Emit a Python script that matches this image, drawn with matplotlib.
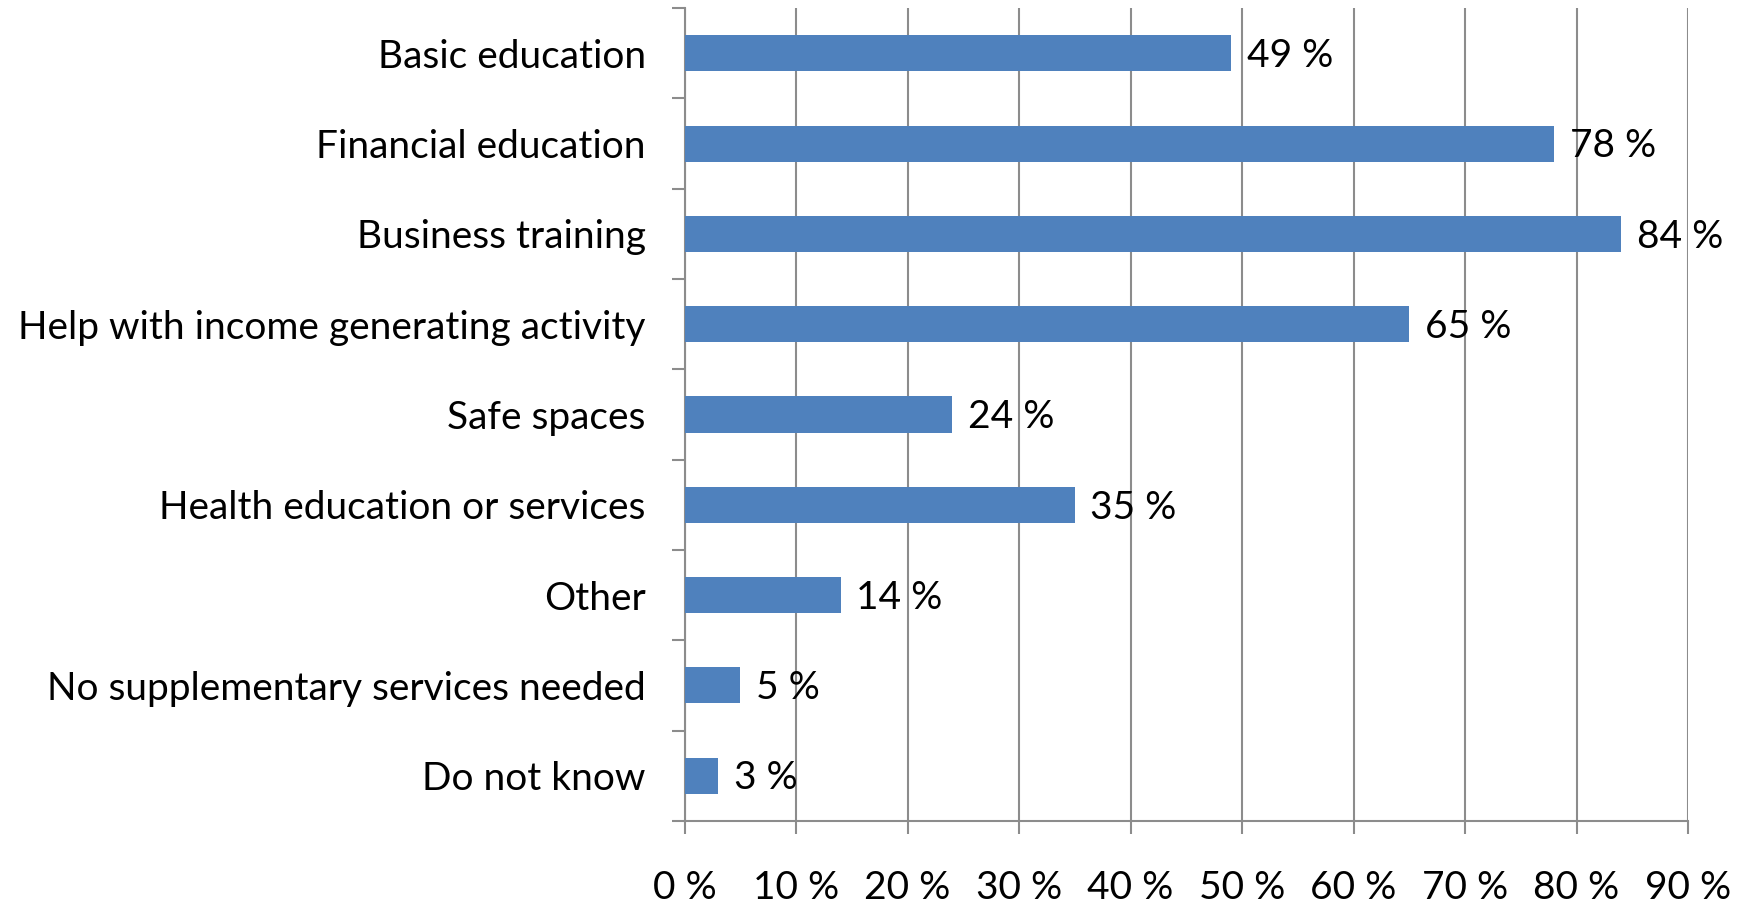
import matplotlib.pyplot as plt
import numpy as np

plt.rcParams['font.family'] = ['Lato', 'DejaVu Sans']

categories = [
    "Basic education",
    "Financial education",
    "Business training",
    "Help with income generating activity",
    "Safe spaces",
    "Health education or services",
    "Other",
    "No supplementary services needed",
    "Do not know",
]
shares = [49, 78, 84, 65, 24, 35, 14, 5, 3]
x_ticks = [0, 10, 20, 30, 40, 50, 60, 70, 80, 90]

BAR_COLOR = "#4F81BD"
GRID_COLOR = "#8C8C8C"
FS = 28

fig = plt.figure(figsize=(17.42, 9.07), dpi=100)
ax = fig.add_axes([0.393, 0.095, 0.576, 0.896])

y = np.arange(len(categories))
ax.barh(y, shares, height=0.4, color=BAR_COLOR, zorder=3)

for yi, v in zip(y, shares):
    ax.text(v + 1.4, yi + 0.03, f"{v} %", va="center", ha="left", fontsize=FS, zorder=4)

ax.set_xlim(0, 90)
ax.set_ylim(len(categories) - 0.5, -0.5)

ax.set_xticks(x_ticks)
ax.set_xticklabels([f"{t} %" for t in x_ticks])
ax.xaxis.grid(True, color=GRID_COLOR, linewidth=1.5, zorder=0)

# category labels at bar centres, tick marks on the boundaries
ax.set_yticks(y)
ax.set_yticklabels(categories)
ax.set_yticks(np.arange(-0.5, len(categories)), minor=True)
ax.tick_params(axis="y", which="major", length=0, pad=28, labelsize=FS)
ax.tick_params(axis="y", which="minor", length=9.5, width=1.5, color=GRID_COLOR)
ax.tick_params(axis="x", length=9.5, width=1.5, color=GRID_COLOR, pad=26, labelsize=FS)

for side in ("top", "right"):
    ax.spines[side].set_visible(False)
for side in ("left", "bottom"):
    ax.spines[side].set_color(GRID_COLOR)
    ax.spines[side].set_linewidth(1.5)

fig.savefig("out.png", dpi=100)
